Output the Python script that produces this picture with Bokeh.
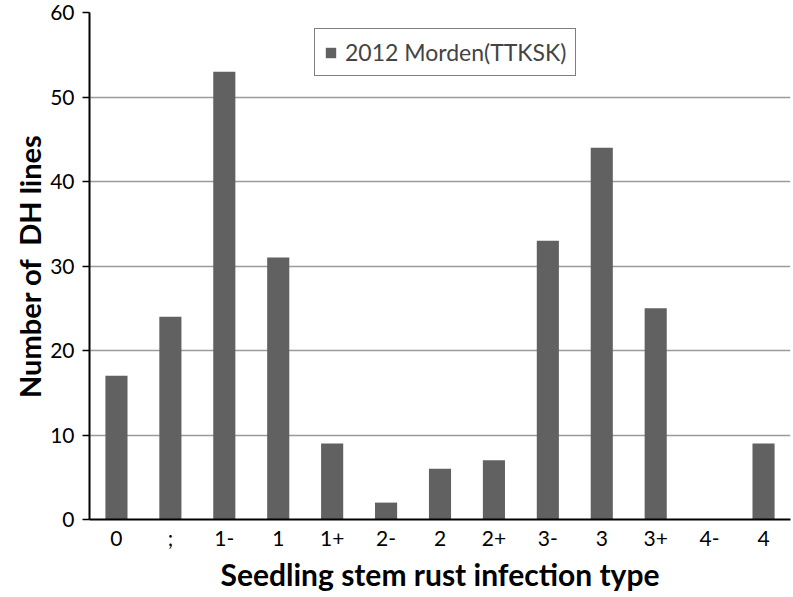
from bokeh.plotting import figure
from bokeh.models import ColumnDataSource, FactorRange, Range1d, Legend, LegendItem, SingleIntervalTicker, Title
from bokeh.embed import file_html
from bokeh.resources import INLINE

categories = ["0", ";", "1-", "1", "1+", "2-", "2", "2+", "3-", "3", "3+", "4-", "4"]
counts = [17, 24, 53, 31, 9, 2, 6, 7, 33, 44, 25, 0, 9]
series_name = "2012 Morden(TTKSK)"
x_title = "Seedling stem rust infection type"
y_title = "Number of \u00a0DH lines"

src = ColumnDataSource(dict(cat=categories, val=counts))

p = figure(width=793, height=597, output_backend="svg", toolbar_location=None,
           x_range=FactorRange(*categories, range_padding=0), y_range=Range1d(0, 60),
           min_border_left=89, min_border_top=12, min_border_right=3, min_border_bottom=78)
r = p.vbar(x="cat", top="val", width=0.41, source=src, fill_color="#616161", line_color=None)

font = "Lato"
p.outline_line_color = None
p.xgrid.grid_line_color = None
p.ygrid.grid_line_color = "#9a9a9a"
p.ygrid.grid_line_width = 1.5
p.yaxis.ticker = SingleIntervalTicker(interval=10)
p.yaxis.minor_tick_line_color = None
p.yaxis.major_tick_in = 0
p.yaxis.major_tick_out = 7
p.yaxis.major_tick_line_color = "black"
p.yaxis.major_tick_line_width = 1.5
p.xaxis.major_tick_line_color = None
p.xaxis.major_tick_in = 0
p.xaxis.major_tick_out = 0
p.xaxis.minor_tick_line_color = None
for ax in (p.xaxis, p.yaxis):
    ax.axis_line_color = "black"
    ax.axis_line_width = 2
    ax.major_label_text_font = font
    ax.major_label_text_font_size = "21px"
    ax.major_label_text_color = "black"
p.xaxis.major_label_standoff = 5
p.yaxis.major_label_standoff = 8

xt = Title(text=x_title, align="center", text_font=font, text_font_size="30px",
           text_font_style="bold", text_color="black", standoff=2)
yt = Title(text=y_title, align="center", text_font=font, text_font_size="29px",
           text_font_style="bold", text_color="black", standoff=2)
p.add_layout(xt, "below")
p.add_layout(yt, "left")

legend = Legend(items=[LegendItem(label=series_name, renderers=[r])], location=(225, 443))
legend.border_line_color = "black"
legend.border_line_width = 1.5
legend.label_text_font = font
legend.label_text_font_size = "23px"
legend.glyph_width = 13
legend.glyph_height = 13
legend.padding = 9
legend.margin = 0
legend.label_standoff = 8
legend.background_fill_alpha = 1
p.add_layout(legend, "center")

open("out.html", "w").write(file_html(p, INLINE))
